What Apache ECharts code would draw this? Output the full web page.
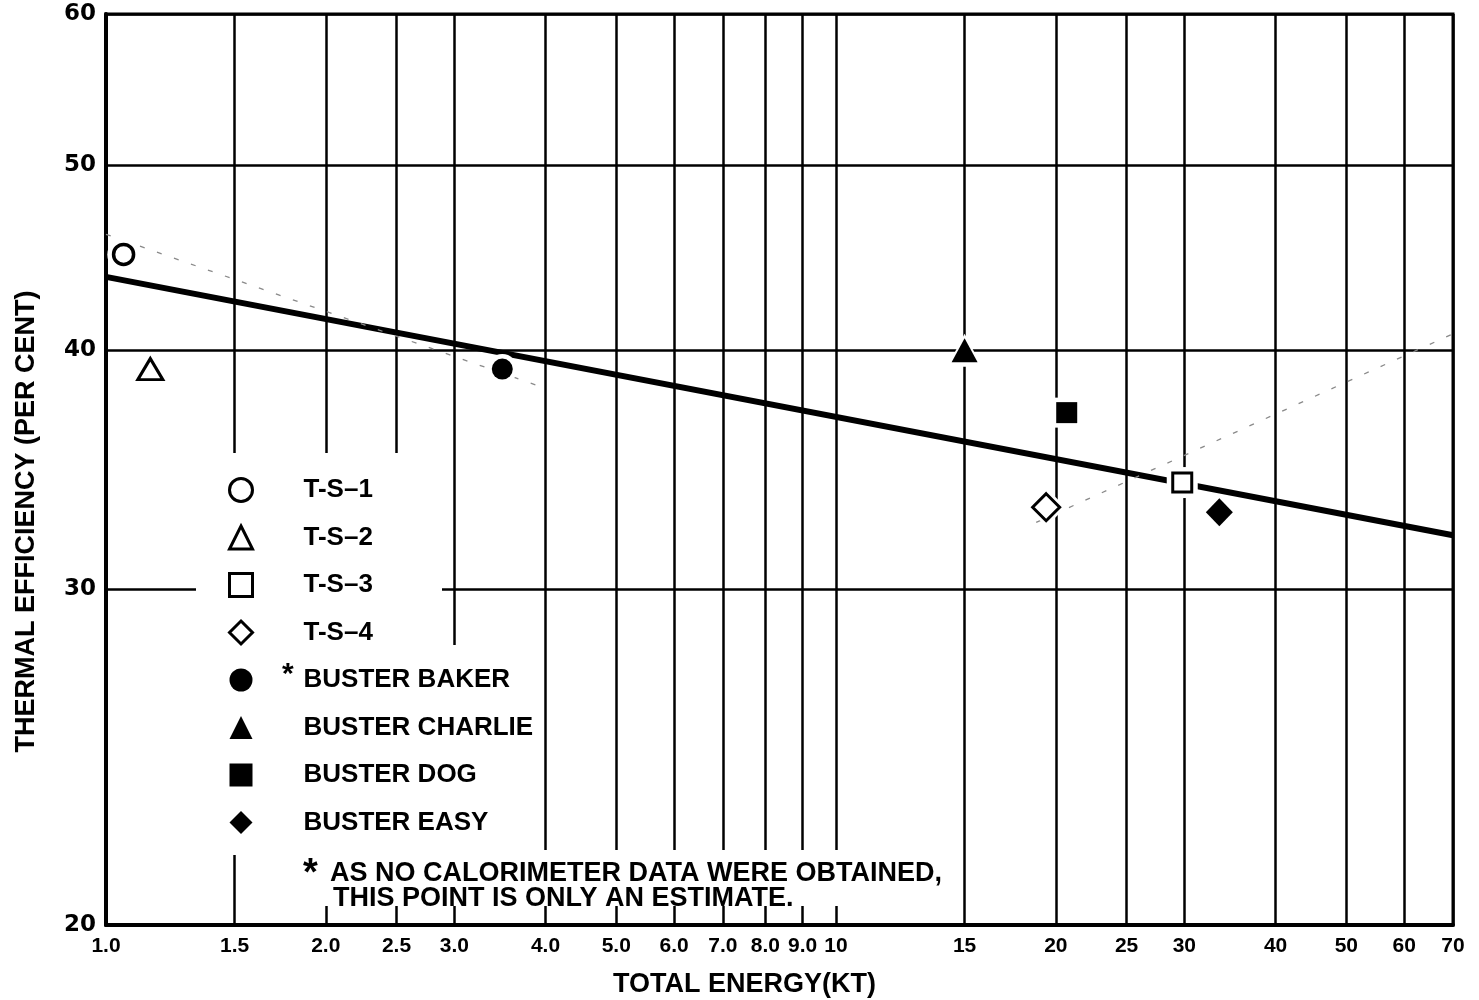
<!DOCTYPE html>
<html>
<head>
<meta charset="utf-8">
<script src="https://cdn.jsdelivr.net/npm/echarts@6/dist/echarts.min.js"></script>
<style>
  html, body { margin: 0; padding: 0; background: #fff; }
  #chart { width: 1479px; height: 1000px; }
</style>
</head>
<body>
<div id="chart"></div>
<script>
// Log-log plot: thermal efficiency against total energy
const xTickValues = [1, 1.5, 2, 2.5, 3, 4, 5, 6, 7, 8, 9, 10, 15, 20, 25, 30, 40, 50, 60, 70];
const xTickLabels = ['1.0', '1.5', '2.0', '2.5', '3.0', '4.0', '5.0', '6.0', '7.0', '8.0', '9.0', '10', '15', '20', '25', '30', '40', '50', '60', '70'];
const yTickValues = [20, 30, 40, 50, 60];
const yTickLabels = ['20', '30', '40', '50', '60'];

// Shots (total energy in KT, thermal efficiency in per cent)
const shotNames = ['T-S–1', 'T-S–2', 'T-S–3', 'T-S–4', 'BUSTER BAKER', 'BUSTER CHARLIE', 'BUSTER DOG', 'BUSTER EASY'];
const shotEnergy = [1.057, 1.15, 29.8, 19.4, 3.49, 15.0, 20.7, 33.5];
const shotEfficiency = [44.9, 39.1, 34.1, 33.1, 39.1, 40.0, 37.1, 32.9];

// Fitted line
const fitEnergy = [1, 70];
const fitEfficiency = [43.7, 32.0];

// Faint pencilled guide lines
const sketchAEnergy = [1, 4.0];
const sketchAEfficiency = [46.0, 38.2];
const sketchBEnergy = [18.8, 70];
const sketchBEfficiency = [32.5, 40.8];

// Marker appearance per shot
const markerLook = [
  { symbol: 'circle',   size: 20,       fill: '#fff', border: 3.5 },
  { symbol: 'triangle', size: [25, 21], fill: '#fff', border: 3 },
  { symbol: 'rect',     size: 19,       fill: '#fff', border: 3 },
  { symbol: 'diamond',  size: [27, 27], fill: '#fff', border: 3 },
  { symbol: 'circle',   size: 21,       fill: '#000', border: 0 },
  { symbol: 'triangle', size: [26, 24], fill: '#000', border: 0 },
  { symbol: 'rect',     size: 21,       fill: '#000', border: 0 },
  { symbol: 'diamond',  size: [27, 28], fill: '#000', border: 0 }
];

const pairs = (xs, ys) => xs.map((x, i) => [x, ys[i]]);
const grow = (s, d) => Array.isArray(s) ? [s[0] + d, s[1] + d] : s + d;

const series = [];
series.push({
  type: 'line', name: 'fit', data: pairs(fitEnergy, fitEfficiency),
  showSymbol: false, silent: true, z: 2,
  lineStyle: { color: '#000', width: 6, cap: 'butt' }
});
[[sketchAEnergy, sketchAEfficiency], [sketchBEnergy, sketchBEfficiency]].forEach(([xs, ys], k) => {
  series.push({
    type: 'line', name: 'sketch' + k, data: pairs(xs, ys),
    showSymbol: false, silent: true, z: 2,
    lineStyle: { color: '#8a8a8a', width: 1.3, type: [5, 13] }
  });
});
// white halos that break grid lines around the markers
shotNames.forEach((n, i) => {
  const m = markerLook[i];
  series.push({
    type: 'scatter', name: 'halo' + i, data: [[shotEnergy[i], shotEfficiency[i]]],
    symbol: m.symbol, symbolSize: grow(m.size, m.border + 9), silent: true, z: 3,
    itemStyle: { color: '#fff', opacity: 1 }
  });
});
shotNames.forEach((n, i) => {
  const m = markerLook[i];
  series.push({
    type: 'scatter', name: n, data: [[shotEnergy[i], shotEfficiency[i]]],
    symbol: m.symbol, symbolSize: m.size, z: 4,
    itemStyle: { color: m.fill, borderColor: '#000', borderWidth: m.border, opacity: 1 }
  });
});

const chart = echarts.init(document.getElementById('chart'), null, { renderer: 'canvas' });
chart.setOption({
  animation: false,
  backgroundColor: '#fff',
  grid: {
    left: 106, right: 26, top: 14, bottom: 75,
    show: true, borderColor: '#000', borderWidth: 3, backgroundColor: 'transparent',
    outerBoundsMode: 'none'
  },
  xAxis: {
    type: 'log', logBase: 10, min: 1, max: 70,
    name: 'TOTAL ENERGY(KT)', nameLocation: 'middle', nameGap: 46,
    nameTextStyle: { color: '#000', fontFamily: 'Liberation Sans', fontWeight: 'bold', fontSize: 27, padding: [0, 70, 0, 0] },
    axisLine: { show: true, onZero: false, lineStyle: { color: '#000', width: 4 } },
    axisTick: { show: false, customValues: xTickValues },
    axisLabel: {
      customValues: xTickValues, margin: 11, hideOverlap: false,
      color: '#000', fontFamily: 'Liberation Sans', fontWeight: 'bold', fontSize: 21,
      formatter: v => xTickLabels[xTickValues.findIndex(t => Math.abs(t - v) < 1e-6)] ?? ''
    },
    splitLine: { show: true, lineStyle: { color: '#000', width: 2.5 } },
    minorSplitLine: { show: false }
  },
  yAxis: {
    type: 'log', logBase: 10, min: 20, max: 60,
    name: 'THERMAL EFFICIENCY (PER CENT)', nameLocation: 'middle', nameGap: 66, nameRotate: 90,
    nameTextStyle: { color: '#000', fontFamily: 'Liberation Sans', fontWeight: 'bold', fontSize: 27, padding: [0, 104, 0, 0] },
    axisLine: { show: true, onZero: false, lineStyle: { color: '#000', width: 4 } },
    axisTick: { show: false, customValues: yTickValues },
    axisLabel: {
      customValues: yTickValues, margin: 10,
      color: '#000', fontFamily: 'DejaVu Sans', fontWeight: 'bold', fontSize: 23,
      formatter: v => yTickLabels[yTickValues.findIndex(t => Math.abs(t - v) < 1e-6)] ?? ''
    },
    splitLine: { show: true, lineStyle: { color: '#000', width: 2.5 } },
    minorSplitLine: { show: false }
  },
  legend: {
    data: shotNames.map((n, i) => ({
      name: n,
      itemStyle: { color: markerLook[i].fill, borderColor: '#000', borderWidth: markerLook[i].border ? 3 : 0 }
    })),
    orient: 'vertical', left: 228, top: 477, padding: 0,
    itemWidth: 23, itemHeight: 23, itemGap: 21.5, selectedMode: false,
    textStyle: { color: '#000', fontFamily: 'Liberation Sans', fontWeight: 'bold', fontSize: 26, lineHeight: 26, padding: [0, 0, 0, 46] }
  },
  graphic: [
    // white clearing behind the key and the footnote
    { type: 'rect', z: 1, silent: true, shape: { x: 196, y: 453, width: 246, height: 402 }, style: { fill: '#fff' } },
    { type: 'rect', z: 1, silent: true, shape: { x: 442, y: 645, width: 95, height: 205 }, style: { fill: '#fff' } },
    { type: 'rect', z: 1, silent: true, shape: { x: 296, y: 850, width: 666, height: 56 }, style: { fill: '#fff' } },
    { type: 'text', z: 5, silent: true, x: 282, y: 660, style: { text: '*', fill: '#000', fontFamily: 'Liberation Sans', fontWeight: 'bold', fontSize: 30 } },
    { type: 'text', z: 5, silent: true, x: 303, y: 856, style: { text: '*', fill: '#000', fontFamily: 'Liberation Sans', fontWeight: 'bold', fontSize: 38 } },
    { type: 'text', z: 5, silent: true, x: 330, y: 860, style: { text: 'AS NO CALORIMETER DATA WERE OBTAINED,', fill: '#000', fontFamily: 'Liberation Sans', fontWeight: 'bold', fontSize: 27 } },
    { type: 'text', z: 5, silent: true, x: 333, y: 885, style: { text: 'THIS POINT IS ONLY AN ESTIMATE.', fill: '#000', fontFamily: 'Liberation Sans', fontWeight: 'bold', fontSize: 27 } }
  ],
  series: series
});
</script>
</body>
</html>
